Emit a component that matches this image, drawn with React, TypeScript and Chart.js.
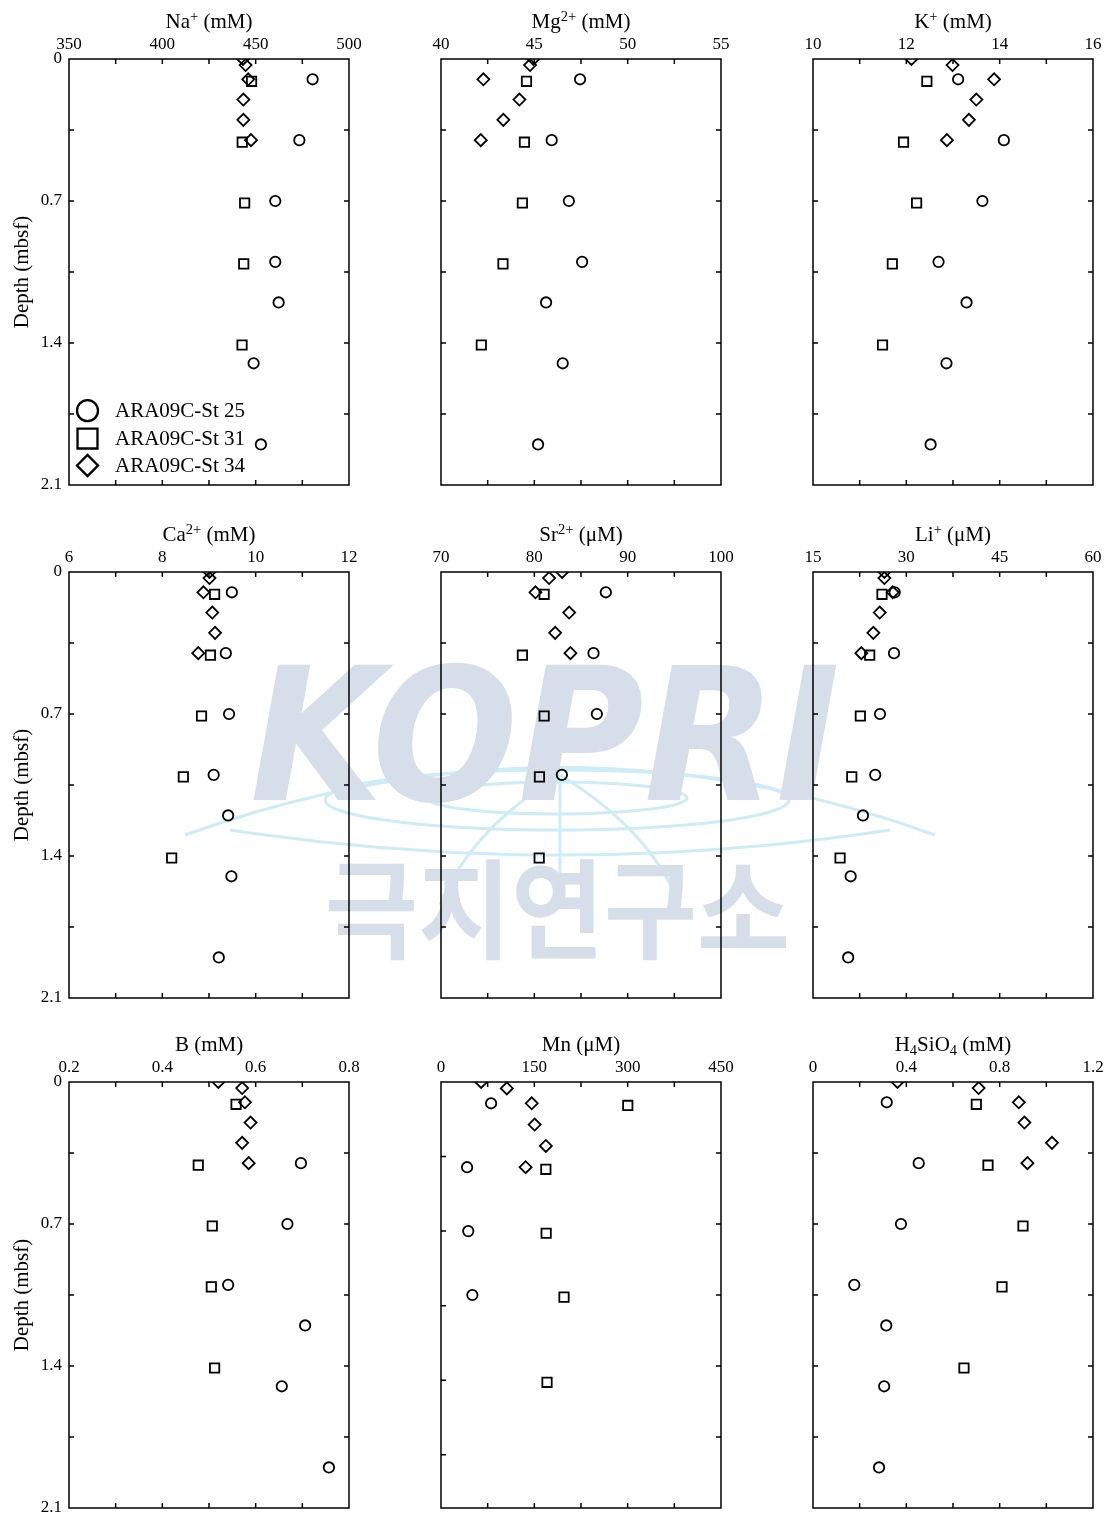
import React, { useEffect, useRef } from 'react';
import { Chart, registerables } from 'chart.js';

Chart.register(...registerables);

// Sampling depths (mbsf) for each station
const depthSt25 = [0.1, 0.4, 0.7, 1.0, 1.2, 1.5, 1.9];
const depthSt31 = [0.11, 0.41, 0.71, 1.01, 1.41];
const depthSt34 = [0, 0.03, 0.1, 0.2, 0.3, 0.4];

const stationLabels = ['ARA09C-St 25', 'ARA09C-St 31', 'ARA09C-St 34'];

// Pore-water concentrations, one array per station and constituent
const naSt25 = [480.5, 473.4, 460.5, 460.5, 462.3, 448.9, 452.8];
const naSt31 = [447.8, 442.8, 444.1, 443.6, 442.7];
const naSt34 = [443.2, 444.6, 446.0, 443.4, 443.4, 447.5];

const mgSt25 = [47.45, 45.93, 46.85, 47.56, 45.63, 46.52, 45.2];
const mgSt31 = [44.58, 44.47, 44.36, 43.32, 42.16];
const mgSt34 = [44.95, 44.77, 42.27, 44.2, 43.34, 42.13];

const kSt25 = [13.11, 14.09, 13.63, 12.69, 13.29, 12.86, 12.52];
const kSt31 = [12.44, 11.94, 12.22, 11.7, 11.49];
const kSt34 = [12.11, 12.99, 13.88, 13.5, 13.34, 12.87];

const caSt25 = [9.49, 9.36, 9.43, 9.1, 9.41, 9.48, 9.21];
const caSt31 = [9.12, 9.03, 8.84, 8.45, 8.2];
const caSt34 = [9.01, 9.01, 8.88, 9.07, 9.13, 8.77];

const srSt25 = [87.66, 86.34, 86.7, 82.95, null, null, null];
const srSt31 = [81.05, 78.72, 81.05, 80.55, 80.52];
const srSt34 = [82.98, 81.58, 80.12, 83.73, 82.23, 83.87];

const liSt25 = [28.13, 28.02, 25.77, 25.0, 23.03, 21.05, 20.65];
const liSt31 = [26.09, 24.11, 22.61, 21.23, 19.35];
const liSt34 = [26.47, 26.47, 27.81, 25.72, 24.7, 22.77];

const bSt25 = [null, 0.697, 0.668, 0.541, 0.706, 0.656, 0.757];
const bSt31 = [0.558, 0.477, 0.507, 0.505, 0.512];
const bSt34 = [0.52, 0.571, 0.577, 0.589, 0.571, 0.585];

const mnSt25 = [80.5, 41.9, 43.8, 50.4];
const mnSt31 = [300.2, 168.5, 169.0, 197.7, 170.4];
const mnSt34 = [64.5, 105.8, 145.8, 150.5, 168.5, 136.0];

const siSt25 = [0.316, 0.453, 0.377, 0.177, 0.314, 0.305, 0.283];
const siSt31 = [0.7, 0.75, 0.9, 0.81, 0.647];
const siSt34 = [0.362, 0.71, 0.882, 0.906, 1.024, 0.919];

// Depth axis ranges
const depthMax = 2.1;
const depthMaxMn = 2.0;
const depthStep = 0.35;
const depthLabelStep = 0.7;

const SERIF = "'Liberation Serif', 'Times New Roman', Times, serif";

type Part = { t: string; k?: 'sup' | 'sub' };

interface PanelSpec {
  id: string;
  title: Part[];
  xMin: number;
  xMax: number;
  xMinor: number;
  xMajor: number;
  st25: (number | null)[];
  st31: (number | null)[];
  st34: (number | null)[];
  yMax: number;
  col: number;
  row: number;
  legend?: boolean;
}

const panels: PanelSpec[] = [
  { id: 'na', title: [{ t: 'Na' }, { t: '+', k: 'sup' }, { t: ' (mM)' }], xMin: 350, xMax: 500, xMinor: 25, xMajor: 50, st25: naSt25, st31: naSt31, st34: naSt34, yMax: depthMax, col: 0, row: 0, legend: true },
  { id: 'mg', title: [{ t: 'Mg' }, { t: '2+', k: 'sup' }, { t: ' (mM)' }], xMin: 40, xMax: 55, xMinor: 2.5, xMajor: 5, st25: mgSt25, st31: mgSt31, st34: mgSt34, yMax: depthMax, col: 1, row: 0 },
  { id: 'k', title: [{ t: 'K' }, { t: '+', k: 'sup' }, { t: ' (mM)' }], xMin: 10, xMax: 16, xMinor: 1, xMajor: 2, st25: kSt25, st31: kSt31, st34: kSt34, yMax: depthMax, col: 2, row: 0 },
  { id: 'ca', title: [{ t: 'Ca' }, { t: '2+', k: 'sup' }, { t: ' (mM)' }], xMin: 6, xMax: 12, xMinor: 1, xMajor: 2, st25: caSt25, st31: caSt31, st34: caSt34, yMax: depthMax, col: 0, row: 1 },
  { id: 'sr', title: [{ t: 'Sr' }, { t: '2+', k: 'sup' }, { t: ' (μM)' }], xMin: 70, xMax: 100, xMinor: 5, xMajor: 10, st25: srSt25, st31: srSt31, st34: srSt34, yMax: depthMax, col: 1, row: 1 },
  { id: 'li', title: [{ t: 'Li' }, { t: '+', k: 'sup' }, { t: ' (μM)' }], xMin: 15, xMax: 60, xMinor: 7.5, xMajor: 15, st25: liSt25, st31: liSt31, st34: liSt34, yMax: depthMax, col: 2, row: 1 },
  { id: 'b', title: [{ t: 'B (mM)' }], xMin: 0.2, xMax: 0.8, xMinor: 0.1, xMajor: 0.2, st25: bSt25, st31: bSt31, st34: bSt34, yMax: depthMax, col: 0, row: 2 },
  { id: 'mn', title: [{ t: 'Mn (μM)' }], xMin: 0, xMax: 450, xMinor: 75, xMajor: 150, st25: mnSt25, st31: mnSt31, st34: mnSt34, yMax: depthMaxMn, col: 1, row: 2 },
  { id: 'si', title: [{ t: 'H' }, { t: '4', k: 'sub' }, { t: 'SiO' }, { t: '4', k: 'sub' }, { t: ' (mM)' }], xMin: 0, xMax: 1.2, xMinor: 0.2, xMajor: 0.4, st25: siSt25, st31: siSt31, st34: siSt34, yMax: depthMax, col: 2, row: 2 },
];

const CANVAS_W = 372;
const CANVAS_H = 497;
const ROW_TOPS = [0, 513, 1023];
const AXIS_TOP = 59;
const AXIS_LEFT = 69;
const AXIS_RIGHT = 23;
const PLOT_H = 426;

const isMultiple = (v: number, base: number, step: number) => {
  const r = (v - base) / step;
  return Math.abs(r - Math.round(r)) < 1e-6;
};
const fmt = (v: number) => String(parseFloat(v.toFixed(3)));

const toPoints = (vals: (number | null)[], depths: number[]) =>
  vals
    .map((v, i) => (v == null ? null : { x: v, y: depths[i] }))
    .filter((p): p is { x: number; y: number } => p !== null);

function drawSymbol(ctx: CanvasRenderingContext2D, style: string, x: number, y: number, r: number) {
  ctx.beginPath();
  if (style === 'circle') {
    ctx.arc(x, y, r, 0, Math.PI * 2);
  } else if (style === 'rect') {
    ctx.rect(x - r * 0.95, y - r * 0.95, r * 1.9, r * 1.9);
  } else {
    ctx.moveTo(x - r, y);
    ctx.lineTo(x, y - r);
    ctx.lineTo(x + r, y);
    ctx.lineTo(x, y + r);
    ctx.closePath();
  }
  ctx.stroke();
}

// Fixed axis box sizes so every plot area lines up across the grid
const fixSize = (w: number | null, h: number | null) => (s: any) => {
  if (w != null) s.width = w;
  if (h != null) s.height = h;
  s.paddingTop = 0;
  s.paddingBottom = 0;
  s.paddingLeft = 0;
  s.paddingRight = 0;
};

// Box, inward ticks on all four sides, rich-text title and the in-plot legend
const framePlugin = {
  id: 'frame',
  afterDraw(chart: any, _args: any, opts: any) {
    const { ctx, chartArea: a, scales } = chart;
    ctx.save();
    ctx.strokeStyle = '#000';
    ctx.lineWidth = 1.5;
    ctx.strokeRect(a.left, a.top, a.right - a.left, a.bottom - a.top);

    const L = 5;
    ctx.beginPath();
    const xs = scales.x;
    xs.ticks.forEach((t: any) => {
      const px = xs.getPixelForValue(t.value);
      if (px <= a.left + 1 || px >= a.right - 1) return;
      ctx.moveTo(px, a.top);
      ctx.lineTo(px, a.top + L);
      ctx.moveTo(px, a.bottom);
      ctx.lineTo(px, a.bottom - L);
    });
    const yl = scales.y;
    yl.ticks.forEach((t: any) => {
      const py = yl.getPixelForValue(t.value);
      if (py <= a.top + 1 || py >= a.bottom - 1) return;
      ctx.moveTo(a.left, py);
      ctx.lineTo(a.left + L, py);
    });
    const yr = scales.y2;
    yr.ticks.forEach((t: any) => {
      const py = yr.getPixelForValue(t.value);
      if (py <= a.top + 1 || py >= a.bottom - 1) return;
      ctx.moveTo(a.right, py);
      ctx.lineTo(a.right - L, py);
    });
    ctx.stroke();

    // title
    const parts: Part[] = opts.title || [];
    const big = `21px ${SERIF}`;
    const small = `14.5px ${SERIF}`;
    let total = 0;
    const widths = parts.map((p) => {
      ctx.font = p.k ? small : big;
      const w = ctx.measureText(p.t).width;
      total += w;
      return w;
    });
    let cx = (a.left + a.right) / 2 - total / 2;
    const base = a.top - 31;
    ctx.fillStyle = '#000';
    ctx.textBaseline = 'alphabetic';
    ctx.textAlign = 'left';
    parts.forEach((p, i) => {
      ctx.font = p.k ? small : big;
      const dy = p.k === 'sup' ? -7 : p.k === 'sub' ? 4 : 0;
      ctx.fillText(p.t, cx, base + dy);
      cx += widths[i];
    });

    if (opts.legend) {
      const rows = [-74.3, -46.5, -19.5];
      ctx.lineWidth = 2.3;
      ctx.font = big;
      ctx.textBaseline = 'middle';
      chart.data.datasets.forEach((ds: any, i: number) => {
        const y = a.bottom + rows[i];
        drawSymbol(ctx, ds.pointStyle, a.left + 18.5, y, 10.5);
        ctx.fillText(ds.label, a.left + 46, y + 1);
      });
    }
    ctx.restore();
  },
};

function Panel({ spec }: { spec: PanelSpec }) {
  const ref = useRef<HTMLCanvasElement>(null);
  useEffect(() => {
    if (!ref.current) return;
    const tickFont = { family: SERIF, size: 17 };
    const showDepthLabels = spec.col === 0;
    const common = {
      borderColor: '#000',
      pointBorderColor: '#000',
      backgroundColor: 'rgba(0,0,0,0)',
      pointBackgroundColor: 'rgba(0,0,0,0)',
      pointBorderWidth: 1.8,
      showLine: false,
      yAxisID: 'y',
    };
    const chart = new Chart(ref.current, {
      type: 'scatter',
      data: {
        datasets: [
          { ...common, label: stationLabels[0], data: toPoints(spec.st25, depthSt25), pointStyle: 'circle', pointRadius: 5.2 },
          { ...common, label: stationLabels[1], data: toPoints(spec.st31, depthSt31), pointStyle: 'rect', pointRadius: 6.6 },
          { ...common, label: stationLabels[2], data: toPoints(spec.st34, depthSt34), pointStyle: 'rectRot', pointRadius: 6 },
        ],
      },
      options: {
        responsive: false,
        maintainAspectRatio: false,
        animation: false,
        events: [],
        layout: { padding: { top: 0, left: 0, right: 0, bottom: CANVAS_H - AXIS_TOP - PLOT_H } },
        plugins: {
          legend: { display: false },
          tooltip: { enabled: false },
          frame: { title: spec.title, legend: !!spec.legend },
        } as any,
        scales: {
          x: {
            type: 'linear',
            position: 'top',
            min: spec.xMin,
            max: spec.xMax,
            ticks: {
              stepSize: spec.xMinor,
              autoSkip: false,
              maxRotation: 0,
              padding: 4,
              color: '#000',
              font: tickFont,
              callback: (v: any) => (isMultiple(Number(v), spec.xMin, spec.xMajor) ? fmt(Number(v)) : ''),
            },
            grid: { display: false, drawTicks: false },
            border: { display: false },
            afterFit: fixSize(null, AXIS_TOP),
          },
          y: {
            type: 'linear',
            position: 'left',
            reverse: true,
            min: 0,
            max: spec.yMax,
            ticks: {
              display: showDepthLabels,
              stepSize: depthStep,
              autoSkip: false,
              padding: 7,
              color: '#000',
              font: tickFont,
              callback: (v: any) => (isMultiple(Number(v), 0, depthLabelStep) ? fmt(Number(v)) : ''),
            },
            title: {
              display: showDepthLabels,
              text: 'Depth (mbsf)',
              color: '#000',
              font: { family: SERIF, size: 21 },
              padding: { top: 10, bottom: 0 },
            },
            grid: { display: false, drawTicks: false },
            border: { display: false },
            afterFit: fixSize(AXIS_LEFT, null),
          },
          y2: {
            type: 'linear',
            position: 'right',
            reverse: true,
            min: 0,
            max: depthMax,
            ticks: { display: false, stepSize: depthStep, autoSkip: false },
            grid: { display: false, drawTicks: false },
            border: { display: false },
            afterFit: fixSize(AXIS_RIGHT, null),
          },
        },
      } as any,
      plugins: [framePlugin as any],
    });
    return () => chart.destroy();
  }, [spec]);
  return (
    <canvas
      ref={ref}
      width={CANVAS_W}
      height={CANVAS_H}
      style={{ position: 'absolute', left: spec.col * CANVAS_W, top: ROW_TOPS[spec.row], width: CANVAS_W, height: CANVAS_H }}
    />
  );
}

function Watermark() {
  return (
    <svg width={1111} height={1518} style={{ position: 'absolute', left: 0, top: 0 }}>
      <g fill="none" stroke="#cdecf5" strokeWidth={3}>
        <ellipse cx={557} cy={800} rx={232} ry={30} />
        <ellipse cx={557} cy={798} rx={130} ry={16} />
        <path d="M 185 835 Q 560 700 935 835" />
        <path d="M 230 830 Q 560 880 890 830" />
        <path d="M 560 775 Q 470 830 440 905" />
        <path d="M 560 775 Q 650 830 680 905" />
        <path d="M 560 775 L 560 905" />
      </g>
      <g fill="#d5dee9">
        <text
          x={250}
          y={800}
          fontFamily="'DejaVu Sans', sans-serif"
          fontWeight="bold"
          fontStyle="italic"
          fontSize={185}
          textLength={590}
          lengthAdjust="spacingAndGlyphs"
        >
          KOPRI
        </text>
        <text
          x={325}
          y={950}
          fontFamily="'Noto Sans CJK KR', sans-serif"
          fontWeight={700}
          fontSize={108}
          textLength={465}
          lengthAdjust="spacingAndGlyphs"
        >
          극지연구소
        </text>
      </g>
    </svg>
  );
}

export default function App() {
  return (
    <div style={{ position: 'absolute', left: 0, top: 0, width: 1111, height: 1518, overflow: 'hidden', background: '#fff' }}>
      <Watermark />
      {panels.map((p) => (
        <Panel key={p.id} spec={p} />
      ))}
    </div>
  );
}
